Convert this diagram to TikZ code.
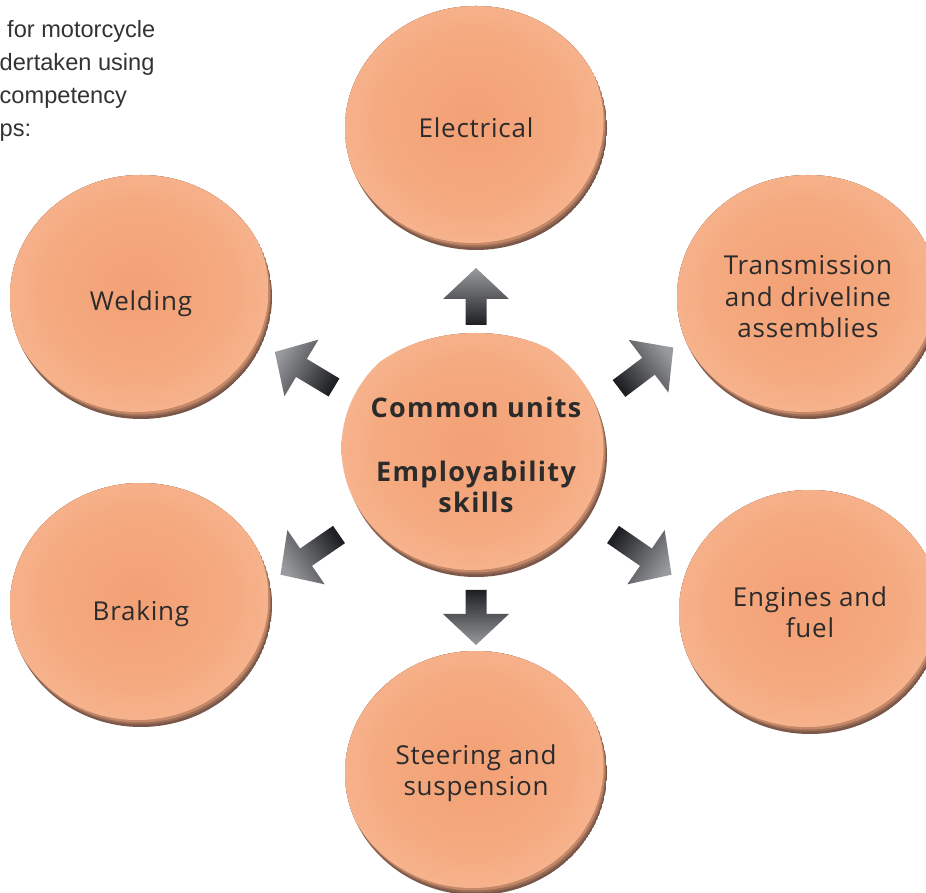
\documentclass[tikz,border=0pt]{standalone}
\usepackage{fontspec}
\setmainfont[LetterSpace=3]{Open Sans}
\newfontfamily\corefont[LetterSpace=5]{Open Sans}
\newfontfamily\arialfont{Liberation Sans}
\usetikzlibrary{shapes.geometric}
\definecolor{pcA}{HTML}{F3A075}
\definecolor{pcB}{HTML}{F5AA80}
\definecolor{pcC}{HTML}{F9C3A4}
\definecolor{pcD}{HTML}{FEEDE3}
\definecolor{rimA}{HTML}{7A5748}
\definecolor{rimB}{HTML}{9A6C56}
\definecolor{rimC}{HTML}{C48868}
\definecolor{txt}{HTML}{2B2B2B}
\definecolor{arrdark}{HTML}{1E1F22}
\definecolor{arrmid}{HTML}{36373B}
\definecolor{arrlight}{HTML}{989A9E}
\definecolor{introtxt}{HTML}{333333}
\pgfdeclareradialshading{peach}{\pgfpoint{0bp}{0bp}}{color(0bp)=(pcA); color(18bp)=(pcB); color(38bp)=(pcC); color(50bp)=(pcD)}
\newcommand\blockarr[3]{%
  \shade[top color=arrlight, middle color=arrmid, bottom color=arrdark, shading angle={#2-90}, shift={(#1)}, rotate=#2]
    (0,-10.5) -- ({#3-31},-10.5) -- ({#3-31},-33) -- (#3,0) -- ({#3-31},33) -- ({#3-31},10.5) -- (0,10.5) -- cycle;}
\newcommand\lowered[2]{\raisebox{-#1}[\height][\depth]{#2}}
\tikzset{
  bubble/.style={ellipse, minimum width=262pt, minimum height=244pt, inner sep=0pt,
    align=center, text=txt, font=\fontsize{26}{31.5}\selectfont,
    path picture={
      \fill[rimA] (path picture bounding box.center) ellipse (131pt and 122pt);
      \fill[rimB] ([shift={(-1pt,2.5pt)}]path picture bounding box.center) ellipse (131pt and 122pt);
      \fill[rimC] ([shift={(-2pt,4.5pt)}]path picture bounding box.center) ellipse (131pt and 122pt);
      \shade[shading=peach] ([shift={(-3.5pt,7pt)}]path picture bounding box.center) ellipse (131pt and 122pt);
    }},
  intro/.style={anchor=base west, inner sep=0pt, text=introtxt, font=\arialfont\fontsize{23.6}{27}\selectfont}
}
\begin{document}
\begin{tikzpicture}[x=1pt,y=1pt]
\useasboundingbox (0,0) rectangle (926,892);
\clip (0,0) rectangle (926,892);
\node[bubble] (elec) at (476,764) {Electrical};
\node[bubble] (weld) at (141,595) {\lowered{7pt}{Welding}};
\node[bubble] (trans) at (808,595) {\lowered{3pt}{\begin{tabular}{@{}c@{}}Transmission\\and driveline\\assemblies\end{tabular}}};
\node[bubble, font=\corefont\bfseries\fontsize{27}{31}\selectfont] (core) at (476,437) {Common units\\[33pt]Employability\\skills};
\node[bubble] (brake) at (141,287) {\lowered{9pt}{Braking}};
\node[bubble] (eng) at (810,280) {Engines and\\fuel};
\node[bubble] (steer) at (476,119) {Steering and\\suspension};
\blockarr{476,567}{90}{57}
\blockarr{476,302}{-90}{55}
\blockarr{334,504.5}{149}{69}
\blockarr{619,503.5}{37}{68}
\blockarr{613,357.5}{-34.5}{71}
\blockarr{339,357.5}{-145.5}{71}
\node[intro] (l1) at (7,854) {for motorcycle};
\node[intro] (l2) at (-0.5,821) {dertaken using};
\node[intro] (l3) at (-0.5,788) {competency};
\node[intro] (l4) at (-0.5,755) {ps:};
\end{tikzpicture}
\end{document}
